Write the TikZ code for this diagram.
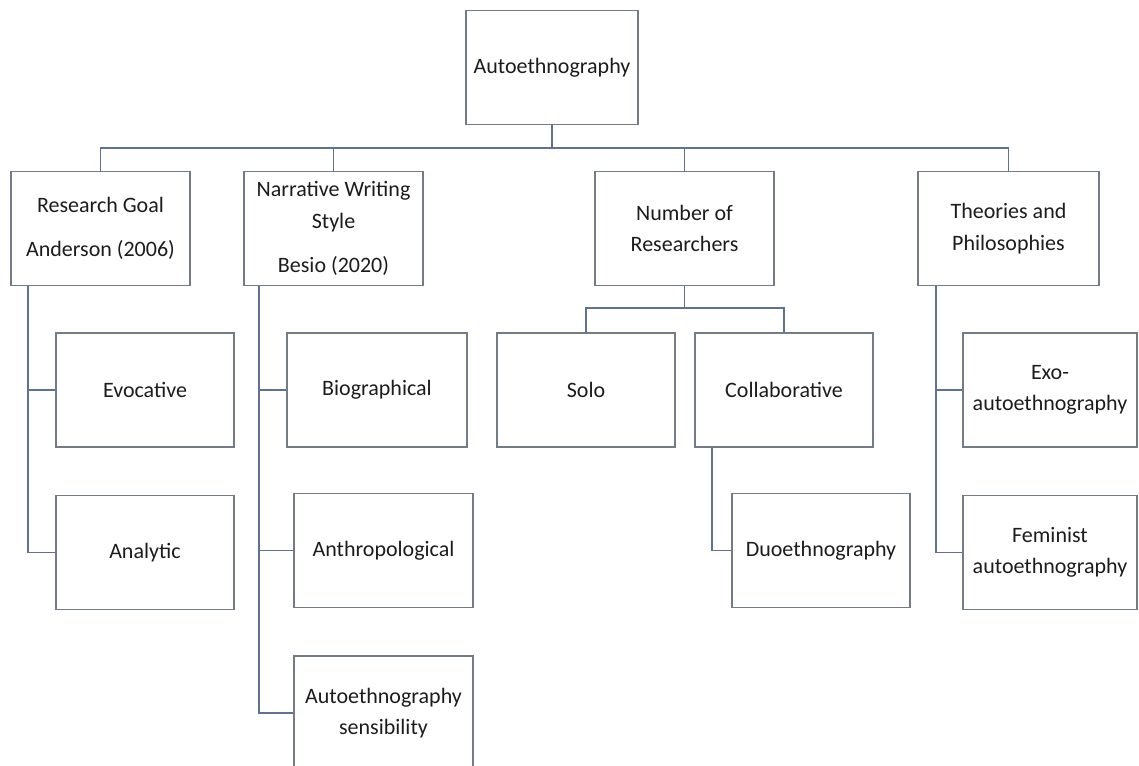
\documentclass[tikz,border=0pt]{standalone}
\usepackage{fontspec}
\setmainfont{Carlito}
\usetikzlibrary{positioning, calc}
\definecolor{boxgray}{HTML}{737B87}
\definecolor{linkblue}{HTML}{61728F}
\definecolor{inkblack}{HTML}{1C1C1C}

\begin{document}
\begin{tikzpicture}[x=1pt, y=-1pt,
        every node/.style={font=\fontsize{22}{31.5}\selectfont, text=inkblack, align=center},
        topic/.style={draw=boxgray, line width=1.5pt, minimum width=179pt, minimum height=114pt, inner sep=2pt},
        link/.style={draw=linkblue, line width=1.6pt}]
        \useasboundingbox (0,0) rectangle (1139,765);
        % root and first level
        \node[topic, minimum width=172pt] (root) at (552,67.5) {Autoethnography};
        \node[topic] (goal) at (100.5,228.5) {Research Goal\\[13pt]Anderson (2006)};
        \node[topic] (style) at (333.5,228.5) {Narrative Writing\\Style\\[13pt]Besio (2020)};
        \node[topic] (num) at (684.5,228.5) {Number of\\Researchers};
        \node[topic, minimum width=181pt] (theo) at (1008.5,228.5) {Theories and\\Philosophies};
        % second level
        \node[topic, minimum width=178pt] (evoc) at (145,390) {Evocative};
        \node[topic, minimum width=178pt] (anal) [below=47pt of evoc] {Analytic};
        \node[topic, minimum width=180pt] (bio) at (377,390) {Biographical};
        \node[topic] (anthro) at (383.5,550.5) {Anthropological};
        \node[topic] (sens) [below=47pt of anthro] {Autoethnography\\sensibility};
        \node[topic, minimum width=178pt] (solo) at (586,390) {Solo};
        \node[topic, minimum width=178pt] (collab) at (784,390) {Collaborative};
        \node[topic, minimum width=178pt] (duo) at (821,550.5) {Duoethnography};
        \node[topic, minimum width=174pt] (exo) at (1050,390) {Exo-\\autoethnography};
        \node[topic, minimum width=174pt] (fem) [below=47pt of exo] {Feminist\\autoethnography};
        % connectors
        \coordinate (bus) at (552,148);
        \coordinate (numbus) at (684.5,308);
        \path[link] (root.south) -- (bus) -| (goal.north)
        (bus) -| (style.north)
        (bus) -| (num.north)
        (bus) -| (theo.north);
        \path[link] ([xshift=18pt]goal.south west) |- (evoc.west)
        ([xshift=18pt]goal.south west) |- (anal.west);
        \path[link] ([xshift=16pt]style.south west) |- (bio.west)
        ([xshift=16pt]style.south west) |- (anthro.west)
        ([xshift=16pt]style.south west) |- (sens.west);
        \path[link] (num.south) -- (numbus) -| (solo.north)
        (numbus) -| (collab.north);
        \path[link] ([xshift=18pt]collab.south west) |- (duo.west);
        \path[link] ([xshift=19pt]theo.south west) |- (exo.west)
        ([xshift=19pt]theo.south west) |- (fem.west);
    \end{tikzpicture}
\end{document}
